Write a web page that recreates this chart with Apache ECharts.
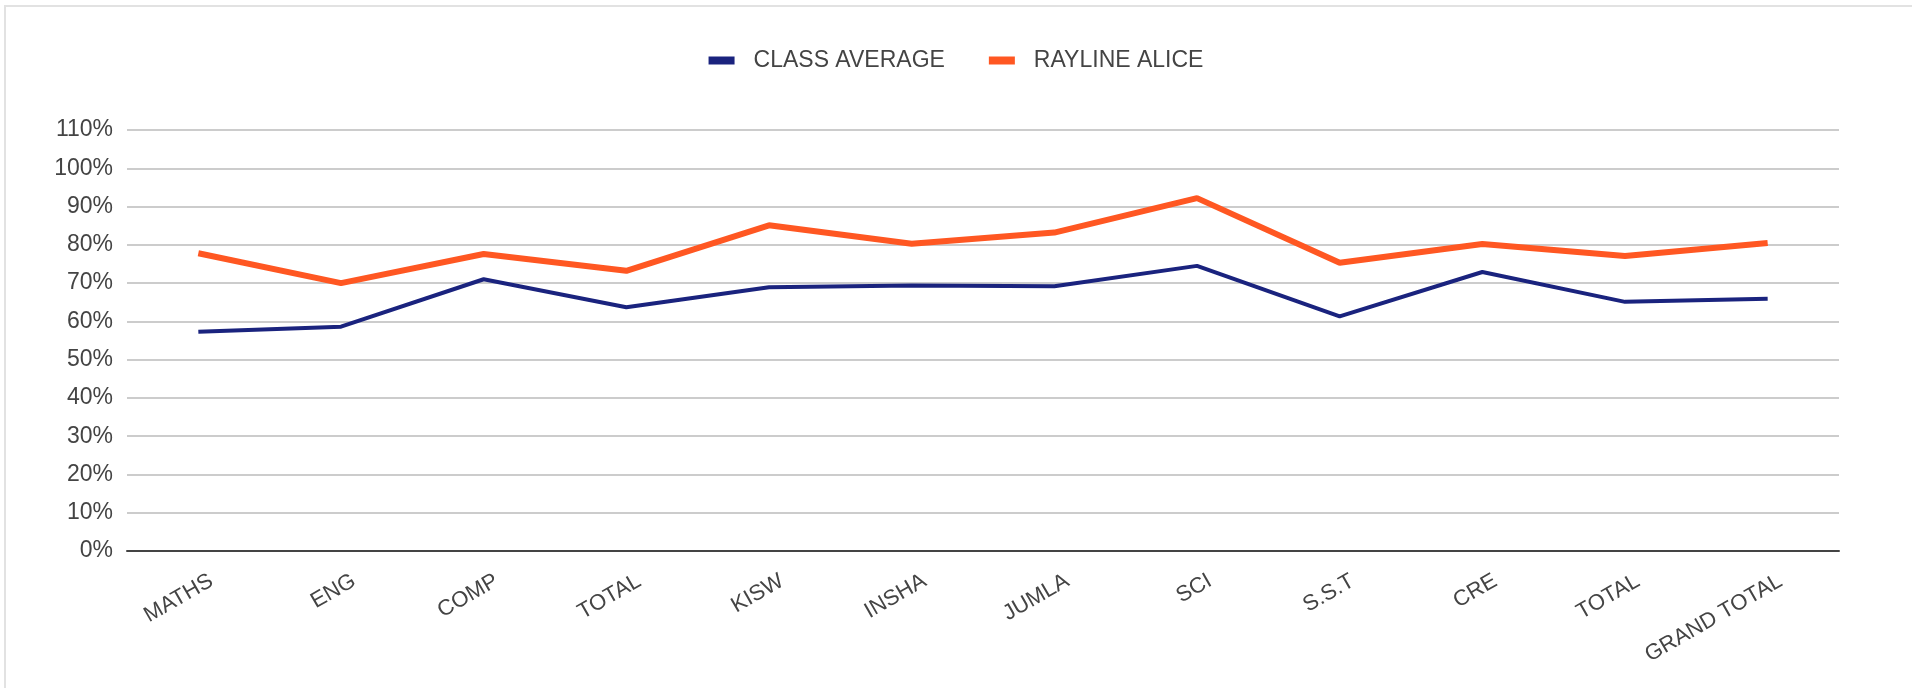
<!DOCTYPE html>
<html>
<head>
<meta charset="utf-8">
<script src="https://cdn.jsdelivr.net/npm/echarts@6/dist/echarts.min.js"></script>
<style>
html,body{margin:0;padding:0;background:#fff;}
#chart{width:1912px;height:688px;}
</style>
</head>
<body>
<div id="chart"></div>
<script>
const categories = ['MATHS','ENG','COMP','TOTAL','KISW','INSHA','JUMLA','SCI','S.S.T','CRE','TOTAL','GRAND TOTAL'];
const seriesNames = ['CLASS AVERAGE','RAYLINE ALICE'];
const classAverage = [0.573, 0.586, 0.710, 0.637, 0.689, 0.694, 0.692, 0.745, 0.613, 0.729, 0.651, 0.659];
const raylineAlice = [0.778, 0.700, 0.776, 0.732, 0.851, 0.803, 0.832, 0.922, 0.753, 0.802, 0.771, 0.805];
const yMin = 0, yMax = 1.1, yInterval = 0.1;

const FONT = '"Liberation Sans", Arial, sans-serif';
const chart = echarts.init(document.getElementById('chart'), null, {renderer:'canvas'});
chart.setOption({
  animation: false,
  backgroundColor: '#ffffff',
  graphic: [{
    type: 'rect', silent: true, z: -10,
    shape: {x: 5, y: 6, width: 1940, height: 720},
    style: {fill: 'none', stroke: '#e2e2e2', lineWidth: 2}
  }],
  legend: {
    top: 44,
    left: 'center',
    itemWidth: 26,
    itemHeight: 8,
    itemGap: 44,
    icon: 'rect',
    textStyle: {fontFamily: FONT, fontSize: 23, color: '#444', padding: [0,0,0,14]},
    data: seriesNames
  },
  grid: {left: 127, right: 73, top: 130, height: 421, outerBoundsMode: 'none'},
  xAxis: {
    type: 'category',
    data: categories,
    boundaryGap: true,
    axisLine: {lineStyle: {color: '#444', width: 2}},
    axisTick: {show: false},
    axisLabel: {
      interval: 0, rotate: 30, align: 'right', verticalAlign: 'top',
      lineHeight: 52, margin: 6,
      fontFamily: FONT, fontSize: 22, color: '#444'
    },
    splitLine: {show: false}
  },
  yAxis: {
    type: 'value',
    min: yMin, max: yMax, interval: yInterval,
    axisLine: {show: false},
    axisTick: {show: false},
    axisLabel: {
      margin: 14, fontFamily: FONT, fontSize: 23, color: '#444',
      formatter: v => Math.round(v * 100) + '%'
    },
    splitLine: {lineStyle: {color: '#cccccc', width: 2}}
  },
  series: [
    {
      name: seriesNames[0], type: 'line', data: classAverage,
      showSymbol: false, symbol: 'none',
      itemStyle: {color: '#1a237e'},
      lineStyle: {color: '#1a237e', width: 4}
    },
    {
      name: seriesNames[1], type: 'line', data: raylineAlice,
      showSymbol: false, symbol: 'none',
      itemStyle: {color: '#ff5722'},
      lineStyle: {color: '#ff5722', width: 6}
    }
  ]
});
</script>
</body>
</html>
